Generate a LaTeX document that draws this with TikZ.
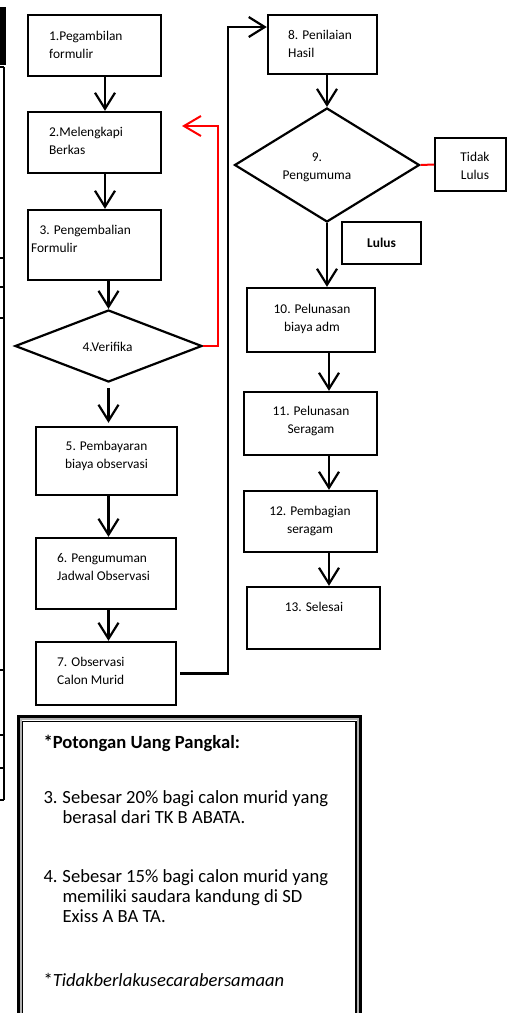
\documentclass[tikz,border=0pt]{standalone}
\usepackage{fontspec}
\setmainfont{Carlito}
\usetikzlibrary{arrows.meta,shapes.geometric}

\begin{document}
\begin{tikzpicture}[x=1pt,y=-1pt,
  kotak/.style={draw,line width=2.4pt,inner sep=0pt},
  belah/.style={draw,diamond,line width=2.2pt,inner sep=0pt},
  panah/.style={line width=2.2pt,-{Straight Barb[length=16pt,width=20pt]}},
  merah/.style={red,line width=2pt},
  teks/.style={inner sep=0pt,font=\fontsize{13.4}{18}\selectfont},
  garis/.style={line width=1.3pt}]

\useasboundingbox (0,0) rectangle (507,1013);

\fill (0,7) rectangle (6,65);
\draw[garis] (4,67) -- (4,800);
\foreach \y in {67,258,287,318,670,735,768,800}
  \draw[garis] (0,\y) -- (4,\y);

\node[kotak,minimum width=133pt,minimum height=61pt] (b1) at (94.5,45.5) {};
\node[kotak,minimum width=133pt,minimum height=61pt] (b2) at (94.5,142.5) {};
\node[kotak,minimum width=133pt,minimum height=70pt] (b3) at (94.5,245) {};
\node[belah,minimum width=187pt,minimum height=72pt] (d4) at (108.5,346) {};
\node[kotak,minimum width=141pt,minimum height=68pt] (b5) at (106.5,461) {};
\node[kotak,minimum width=140pt,minimum height=71pt] (b6) at (106,573.5) {};
\node[kotak,minimum width=140pt,minimum height=63pt] (b7) at (106,673.5) {};

\node[kotak,minimum width=109pt,minimum height=59pt] (b8) at (322.5,44.5) {};
\node[belah,minimum width=185pt,minimum height=114pt] (d9) at (327,165) {};
\node[kotak,line width=2pt,minimum width=71pt,minimum height=53pt] (tidak) at (470.5,164.5) {};
\node[kotak,line width=1.6pt,minimum width=79pt,minimum height=42pt,teks] (lulus) at (381.5,243) {\textbf{Lulus}};
\node[kotak,minimum width=128pt,minimum height=64pt] (b10) at (311,320) {};
\node[kotak,minimum width=133pt,minimum height=63pt] (b11) at (310.5,423.5) {};
\node[kotak,minimum width=133pt,minimum height=61pt] (b12) at (310.5,521.5) {};
\node[kotak,minimum width=133pt,minimum height=62pt] (b13) at (313.5,618) {};

\node[teks,anchor=west,align=left] (t1) at (49,45) {1.Pegambilan\\formulir};
\node[teks,anchor=west,align=left] (t2) at (49,141) {2.Melengkapi\\Berkas};
\node[teks,anchor=west,align=left] (t3) at (31,239) {\hspace*{8.5pt}3. Pengembalian\\Formulir};
\node[teks] (t4) at (107.5,347) {4.Verifika};
\node[teks,align=center] (t5) at (106.5,455.5) {5. Pembayaran\\biaya observasi};
\node[teks,anchor=west,align=left] (t6) at (57,567.5) {6. Pengumuman\\Jadwal Observasi};
\node[teks,anchor=west,align=left] (t7) at (57,671) {7. Observasi\\Calon Murid};
\node[teks,anchor=west,align=left] (t8) at (288,43.5) {8. Penilaian\\Hasil};
\node[teks,align=center] (t9) at (317,167) {9.\\Pengumuma};
\node[teks,align=center] (tt) at (475,165.5) {Tidak\\Lulus};
\node[teks,align=center] (t10) at (312,319) {10. Pelunasan\\biaya adm};
\node[teks,align=center] (t11) at (311,421) {11. Pelunasan\\Seragam};
\node[teks,align=center] (t12) at (310,520.5) {12. Pembagian\\seragam};
\node[teks] (t13) at (314,607) {13. Selesai};

\coordinate (kiri) at (105,0);
\coordinate (kanan) at (329,0);
\coordinate (naik) at (228,27);
\coordinate (belok) at (218,126);
\coordinate (balik) at (182,126);

\draw[panah] (b1.south -| kiri) -- (b2.north -| kiri);
\draw[panah] (b2.south -| kiri) -- (b3.north -| kiri);
\draw[panah] (b3.south -| d4.north) -- (d4.north);
\draw[panah,shorten <=5pt,shorten >=3pt] (d4.south) -- (b5.north -| d4.south);
\draw[panah] (b5.south -| d4.south) -- (b6.north -| d4.south);
\draw[panah] (b6.south -| d4.south) -- (b7.north -| d4.south);
\draw[panah,shorten <=3pt] (b7.east) -| (naik) -- (b8.west |- naik);

\draw[panah] (b8.south -| d9.north) -- (d9.north);
\draw[panah] (d9.south) -- (b10.north -| d9.south);
\draw[panah] (b10.south -| kanan) -- (b11.north -| kanan);
\draw[panah] (b11.south -| kanan) -- (b12.north -| kanan);
\draw[panah] (b12.south -| kanan) -- (b13.north -| kanan);

\draw[merah] (d9.east) -- (tidak.west);
\draw[merah,-{Straight Barb[length=17pt,width=20pt]}] (d4.east) -| (belok) -- (balik);

\draw[line width=2.7pt] (18.7,1030) rectangle (360.5,716.3);
\draw[gray!60,line width=2pt] (21,1030) rectangle (357.9,719);
\draw[line width=1.2pt] (22.7,1030) rectangle (355.9,721.3);

\node[anchor=north west,inner sep=0pt,align=left,font=\fontsize{18.6}{20.2}\selectfont] (catatan) at (43.3,735) {%
\textbf{*Potongan Uang Pangkal:}\\[34.5pt]
\makebox[19pt][l]{3.}Sebesar 20\% bagi calon murid yang\\
\hspace*{19pt}berasal dari TK B ABATA.\\[38.5pt]
\makebox[19pt][l]{4.}Sebesar 15\% bagi calon murid yang\\
\hspace*{19pt}memiliki saudara kandung di SD\\
\hspace*{19pt}Exiss A BA TA.\\[43.5pt]
*\textit{Tidakberlakusecarabersamaan}};

\end{tikzpicture}
\end{document}
